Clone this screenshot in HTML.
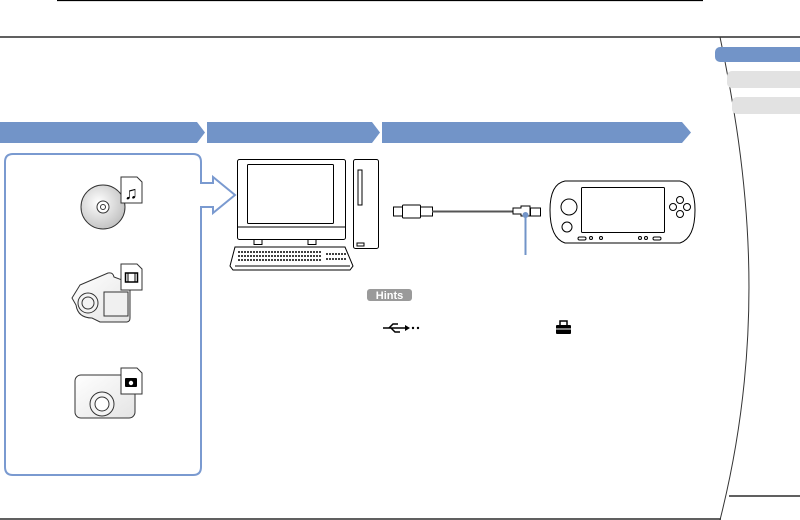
<!DOCTYPE html>
<html><head><meta charset="utf-8"><style>html,body{margin:0;padding:0;background:#fff;width:800px;height:520px;overflow:hidden}</style></head>
<body>
<svg width="800" height="520" viewBox="0 0 800 520" xmlns="http://www.w3.org/2000/svg" font-family="Liberation Sans, sans-serif">
<line x1="57" y1="0.5" x2="703" y2="0.5" stroke="#000" stroke-width="1.2"/>
<line x1="0" y1="37" x2="800" y2="37" stroke="#000" stroke-width="1.2"/>
<line x1="0" y1="519" x2="721" y2="519" stroke="#000" stroke-width="1.2"/>
<line x1="729" y1="496" x2="800" y2="496" stroke="#000" stroke-width="1.2"/>
<path d="M720 37 C 748 170, 768 330, 720 520" fill="none" stroke="#333" stroke-width="1"/>
<rect x="715" y="47" width="100" height="15" rx="5" fill="#7294c8"/>
<rect x="727" y="71" width="90" height="17" rx="5" fill="#e2e2e2"/>
<rect x="732" y="97" width="90" height="17" rx="5" fill="#e2e2e2"/>
<g fill="#7294c8">
<polygon points="0,122 197,122 205,132.5 197,143 0,143"/>
<polygon points="207,122 372,122 380,132.5 372,143 207,143"/>
<polygon points="382,122 682,122 691,132.5 682,143 382,143"/>
</g>
<path d="M13 154 H193 Q201 154 201 162 V183 H213 V177 L235 195 L213 213 V207 H201 V467 Q201 475 193 475 H13 Q5 475 5 467 V162 Q5 154 13 154 Z" fill="#fff" stroke="#7a9ad0" stroke-width="2"/>
<defs><radialGradient id="g" cx="0.4" cy="0.4" r="0.7"><stop offset="0" stop-color="#fff"/><stop offset="1" stop-color="#bbb"/></radialGradient>
<linearGradient id="g2" x1="0" y1="0" x2="1" y2="1"><stop offset="0" stop-color="#fff"/><stop offset="1" stop-color="#e4e4e4"/></linearGradient></defs>
<circle cx="103" cy="207" r="22" fill="url(#g)" stroke="#333"/>
<circle cx="103" cy="207" r="6" fill="#fff" stroke="#333"/>
<circle cx="103" cy="207" r="2.5" fill="#fff" stroke="#333"/>
<path d="M121 177 H137 L142 182 V203 H121 Z" fill="#fff" stroke="#333"/>
<text x="131" y="199" font-size="18" font-weight="bold" text-anchor="middle" fill="#000">♫</text>
<path d="M80 285 L108 273 Q113 272 114 277 L130 283 V318 Q130 322 126 322 H100 L92 318 Q78 318 76 305 L72 298 Z" fill="url(#g2)" stroke="#333"/>
<path d="M104 292 H128 V316 H104 Z" fill="#f0f0f0" stroke="#333"/>
<circle cx="88" cy="303" r="10" fill="#f4f4f4" stroke="#333"/>
<circle cx="88" cy="303" r="6" fill="none" stroke="#333"/>
<path d="M121 264 H137 L142 269 V290 H121 Z" fill="#fff" stroke="#333"/>
<rect x="125.5" y="273" width="12" height="9" fill="none" stroke="#000" stroke-width="1.5"/>
<line x1="128" y1="273" x2="128" y2="282" stroke="#000"/><line x1="135" y1="273" x2="135" y2="282" stroke="#000"/>
<rect x="75" y="375" width="60" height="43" rx="6" fill="url(#g2)" stroke="#333"/>
<circle cx="102" cy="404" r="12" fill="#f4f4f4" stroke="#333"/>
<circle cx="102" cy="404" r="7" fill="#fff" stroke="#333"/>
<path d="M121 368 H137 L142 373 V394 H121 Z" fill="#fff" stroke="#333"/>
<rect x="125" y="378" width="12" height="9" rx="1" fill="#000"/><circle cx="131" cy="383" r="2.2" fill="#fff"/>
<g fill="#fff" stroke="#000">
<rect x="237.5" y="159.5" width="108" height="80" rx="2"/>
<rect x="247.5" y="164.5" width="86" height="59" rx="1"/>
<line x1="237.5" y1="227" x2="345.5" y2="227"/>
<rect x="254" y="239.5" width="8" height="5"/><rect x="308" y="239.5" width="8" height="5"/>
<rect x="353.5" y="159.5" width="25" height="89" rx="2"/>
<rect x="358" y="170" width="4" height="35"/>
<rect x="357" y="243" width="7" height="3"/>
<path d="M235 247 H345 L353 266 L350 270 H233 L230 266 Z"/>
<line x1="235" y1="266" x2="350" y2="266"/>
</g>
<g stroke="#000" stroke-dasharray="2 1" stroke-width="1.5"><line x1="238" y1="252" x2="322" y2="252"/><line x1="238" y1="256" x2="322" y2="256"/><line x1="238" y1="260" x2="322" y2="260"/><line x1="326" y1="254" x2="346" y2="254"/><line x1="326" y1="259" x2="346" y2="259"/></g>
<g fill="#fff" stroke="#000">
<rect x="393.5" y="207" width="9" height="9"/>
<rect x="402.5" y="205" width="18" height="13" rx="1"/>
<rect x="420.5" y="207" width="12" height="9"/>
<line x1="432" y1="211.5" x2="513" y2="211.5" stroke="#555" stroke-width="2"/>
<path d="M513 208 H521 V206 H530 V216 H521 V214 H513 Z"/>
<rect x="530.5" y="208" width="10" height="8"/>
</g>
<line x1="525.5" y1="214" x2="525.5" y2="255" stroke="#7294c8" stroke-width="2"/>
<circle cx="525.5" cy="215" r="3" fill="#7294c8"/>
<g fill="#fff" stroke="#000">
<path d="M565 181 H680 Q695 184 695 210 Q695 238 680 243 H565 Q550 238 550 210 Q550 184 565 181 Z"/>
<rect x="581.5" y="187.5" width="83" height="45" rx="1"/>
<circle cx="569" cy="207" r="8"/><circle cx="567" cy="227" r="5"/>
<circle cx="680" cy="200" r="3.5"/><circle cx="680" cy="214" r="3.5"/><circle cx="673" cy="207" r="3.5"/><circle cx="687" cy="207" r="3.5"/>
<rect x="578" y="237" width="8" height="3" rx="1.5"/><rect x="653" y="237" width="8" height="3" rx="1.5"/>
<circle cx="591" cy="238" r="1.5"/><circle cx="601" cy="238" r="1.5"/><circle cx="640" cy="238" r="1.5"/><circle cx="646" cy="238" r="1.5"/>
</g>
<rect x="367" y="289" width="45" height="12" rx="3" fill="#9a9a9a"/>
<text x="389.5" y="299" font-size="11" font-weight="bold" fill="#fff" text-anchor="middle">Hints</text>
<g stroke="#000" stroke-width="1.5" fill="none"><line x1="383" y1="328" x2="405" y2="328"/><path d="M389 328 L393 324 H398"/><path d="M391 328 L395 332 H400"/></g>
<polygon points="405,325 410,328 405,331" fill="#000"/>
<circle cx="413" cy="328" r="1.2" fill="#000"/><circle cx="418" cy="328" r="1.2" fill="#000"/>
<rect x="556" y="325" width="15" height="9" rx="1" fill="#000"/>
<path d="M560 325 V321 H567 V325" fill="none" stroke="#000" stroke-width="1.5"/>
<line x1="556" y1="329" x2="571" y2="329" stroke="#fff" stroke-width="1"/>
</svg>
</body></html>
